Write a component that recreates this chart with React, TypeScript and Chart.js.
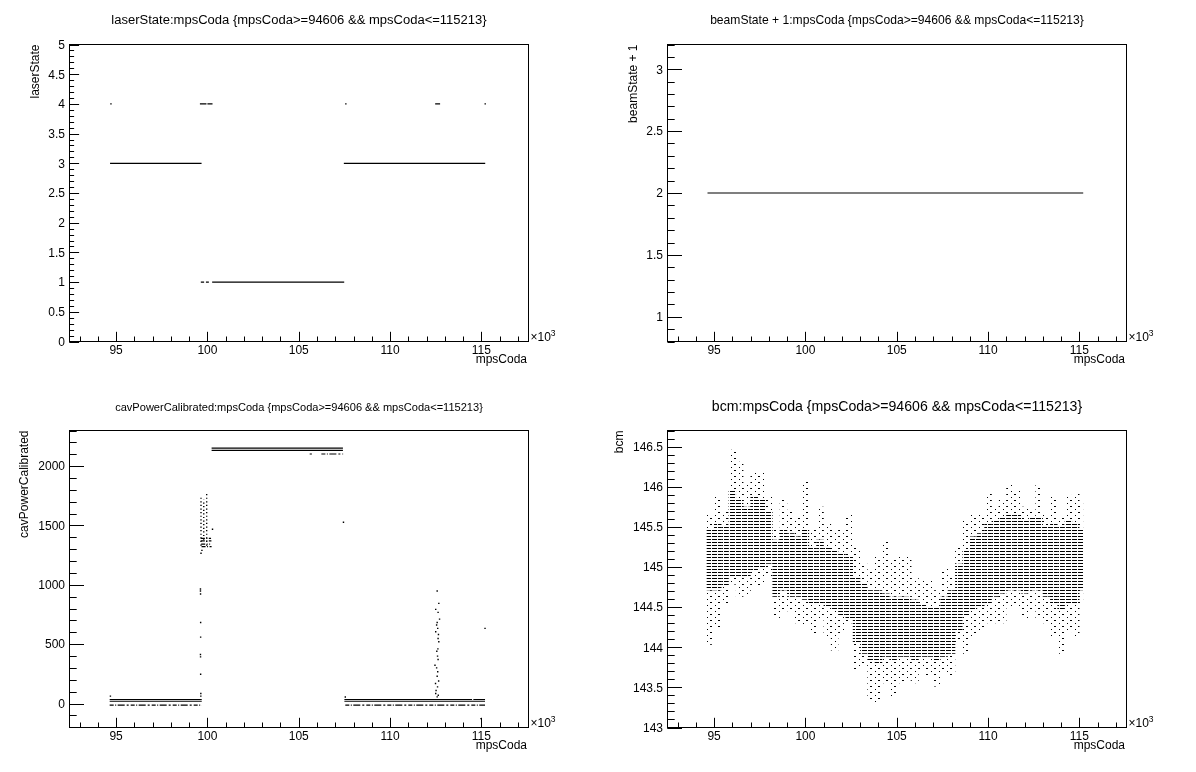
import React, { useEffect, useRef } from 'react';
import { Chart, registerables } from 'chart.js';

Chart.register(...registerables);

const FONT = '"Liberation Sans", Arial, Helvetica, sans-serif';

// ---------- shared x axis ----------
const X_MIN = 92450;
const X_MAX = 117580;
const xMajorTicks = [95000, 100000, 105000, 110000, 115000];
const xTickLabels = ['95', '100', '105', '110', '115'];
const xMinorTicks = [93000, 94000, 96000, 97000, 98000, 99000, 101000, 102000, 103000, 104000, 106000, 107000, 108000, 109000, 111000, 112000, 113000, 114000, 116000, 117000];

// ---------- panel 1: laserState ----------
const laserSegStart = [94670, 107470, 99640, 99920, 100260, 99590, 100000, 112470];
const laserSegEnd = [99680, 115210, 99820, 100080, 107490, 99950, 100280, 112740];
const laserSegValue = [3, 3, 1, 1, 1, 4, 4, 4];
const laserDotX = [94720, 107580, 115210];
const laserDotY = [4, 4, 4];
const laserYTicks = [0, 0.5, 1, 1.5, 2, 2.5, 3, 3.5, 4, 4.5, 5];
const laserYLabels = ['0', '0.5', '1', '1.5', '2', '2.5', '3', '3.5', '4', '4.5', '5'];

// ---------- panel 2: beamState + 1 ----------
const beamSegStart = [94640];
const beamSegEnd = [115210];
const beamSegValue = [2];
const beamYTicks = [1, 1.5, 2, 2.5, 3];
const beamYLabels = ['1', '1.5', '2', '2.5', '3'];

// ---------- panel 3: cavPowerCalibrated ----------
const cavSolidStart = [94650, 94650, 107500, 114560, 107500, 100230, 100230];
const cavSolidEnd = [99690, 99690, 114490, 115200, 115200, 107420, 107420];
const cavSolidValue = [34, 19, 34, 34, 19, 2152, 2132];
const cavSparseStart = [94650, 107550, 105600, 106240, 99640, 99640, 99660, 99680];
const cavSparseEnd = [99690, 115200, 105720, 107430, 100200, 100220, 100150, 100230];
const cavSparseValue = [-14, -14, 2102, 2102, 1392, 1370, 1342, 1322];
const cavColX = [99650, 99800, 99960];
const cavColLo = [1330, 1380, 1330];
const cavColHi = [1740, 1716, 1767];
const cavDotX = [99620, 99620, 99625, 99630, 99630, 99620, 99625, 99630, 99640, 99640, 99650, 100280, 99700,
  94690, 107550, 107450, 115200, 114980,
  112580, 112670, 112500, 112630, 112710, 112580, 112550, 112610, 112500, 112650, 112630, 112670, 112620, 112560,
  112600, 112630, 112460, 112550, 112610, 112580, 112660, 112490, 112600, 112520, 112500, 112640, 112580];
const cavDotY = [965, 948, 922, 683, 559, 413, 393, 247, 84, 62, 1266, 1468, 1290,
  62, 55, 1527, 633, -127,
  948, 844, 793, 768, 711, 683, 661, 633, 604, 582, 548, 520, 460, 441,
  399, 371, 323, 300, 267, 230, 190, 169, 140, 110, 84, 70, 56];
const cavYTicks = [0, 500, 1000, 1500, 2000];
const cavYLabels = ['0', '500', '1000', '1500', '2000'];

// ---------- panel 4: bcm ----------
const bcmX = [94800, 95200, 95600, 96000, 96400, 96800, 97200, 97600, 98000, 98400, 98800, 99200, 99600, 100000,
  100400, 100800, 101200, 101600, 102000, 102400, 102800, 103200, 103600, 104000, 104400, 104800, 105200, 105600,
  106000, 106400, 106800, 107200, 107600, 108000, 108400, 108800, 109200, 109600, 110000, 110400, 110800, 111200,
  111600, 112000, 112400, 112800, 113200, 113600, 114000, 114400, 114800, 115000];
const bcmMax = [145.66, 145.88, 145.69, 146.46, 146.31, 146.02, 146.17, 146.17, 145.88, 145.46, 145.84, 145.71, 145.63, 146.08,
  145.46, 145.75, 145.54, 145.46, 145.46, 145.67, 145.25, 145.04, 144.96, 145.13, 145.32, 145.09, 145.13, 145.13,
  144.88, 144.84, 144.84, 144.71, 145.0, 144.88, 145.25, 145.59, 145.67, 145.65, 145.92, 145.75, 145.84, 146.04,
  145.96, 145.75, 145.71, 146.04, 145.67, 145.88, 145.63, 145.88, 145.92, 145.8];
const bcmMin = [144.03, 144.23, 144.55, 144.78, 144.63, 144.65, 144.75, 144.77, 144.88, 144.34, 144.42, 144.46, 144.3, 144.28,
  144.17, 144.34, 144.13, 143.96, 144.17, 144.3, 143.71, 143.76, 143.34, 143.3, 143.55, 143.38, 143.55, 143.59,
  143.55, 143.71, 143.63, 143.51, 143.67, 143.63, 144.05, 143.92, 144.13, 144.21, 144.3, 144.3, 144.3, 144.5,
  144.5, 144.34, 144.46, 144.34, 144.3, 144.13, 143.92, 144.21, 144.13, 144.55];
const bcmCoreHi = [145.46, 145.54, 145.5, 145.96, 145.84, 145.75, 145.88, 145.84, 145.71, 145.34, 145.46, 145.42, 145.38, 145.46,
  145.25, 145.34, 145.25, 145.21, 145.17, 145.13, 144.88, 144.8, 144.71, 144.71, 144.67, 144.63, 144.63, 144.63,
  144.59, 144.55, 144.5, 144.5, 144.63, 144.71, 145.04, 145.21, 145.38, 145.42, 145.54, 145.59, 145.63, 145.67,
  145.67, 145.59, 145.63, 145.63, 145.5, 145.54, 145.5, 145.59, 145.54, 145.46];
const bcmCoreLo = [144.71, 144.71, 144.75, 144.88, 144.88, 144.88, 144.96, 145.0, 145.04, 144.63, 144.71, 144.63, 144.63, 144.59,
  144.55, 144.55, 144.5, 144.46, 144.38, 144.34, 144.05, 143.92, 143.84, 143.8, 143.88, 143.84, 143.88, 143.88,
  143.84, 143.88, 143.88, 143.84, 143.88, 143.92, 144.21, 144.38, 144.46, 144.5, 144.55, 144.63, 144.67, 144.71,
  144.71, 144.67, 144.71, 144.71, 144.63, 144.55, 144.46, 144.55, 144.55, 144.71];
const bcmYTicks = [143, 143.5, 144, 144.5, 145, 145.5, 146, 146.5];
const bcmYLabels = ['143', '143.5', '144', '144.5', '145', '145.5', '146', '146.5'];

type PanelCfg = {
  key: string;
  left: number;
  top: number;
  title: string;
  titleWidth: number;
  titleY: number;
  yTitle: string;
  yTitleOffset: number;
  yMin: number;
  yMax: number;
  yTicks: number[];
  yLabels: string[];
  yMinorStep: number;
  yMajorLen: number;
  yMinorLen: number;
  kind: 'scatter' | 'bar';
  datasets: () => any[];
};

const segData = (s: number[], e: number[], v: number[]) =>
  s.map((x, i) => [{ x, y: v[i] }, { x: e[i], y: v[i] }]);

const lineSet = (pts: any[], extra: any = {}) => ({
  type: 'line',
  data: pts,
  showLine: true,
  borderColor: '#000',
  borderWidth: 1.2,
  pointRadius: 0,
  fill: false,
  ...extra,
});

const dotSet = (xs: number[], ys: number[]) => ({
  type: 'scatter',
  data: xs.map((x, i) => ({ x, y: ys[i] })),
  showLine: false,
  pointStyle: 'rect',
  pointRadius: 1,
  pointBorderWidth: 0,
  backgroundColor: '#000',
  borderColor: '#000',
});

function makePattern(w: number, h: number, draw: (c: CanvasRenderingContext2D) => void) {
  const c = document.createElement('canvas');
  c.width = w;
  c.height = h;
  const cx = c.getContext('2d')!;
  cx.fillStyle = '#000';
  draw(cx);
  const probe = document.createElement('canvas').getContext('2d')!;
  return probe.createPattern(c, 'repeat');
}

const panels: PanelCfg[] = [
  {
    key: 'laser', left: 0, top: 0,
    title: 'laserState:mpsCoda {mpsCoda>=94606 && mpsCoda<=115213}', titleWidth: 376, titleY: 20.8,
    yTitle: 'laserState', yTitleOffset: 31,
    yMin: 0, yMax: 5, yTicks: laserYTicks, yLabels: laserYLabels, yMinorStep: 0.1, yMajorLen: 9.6, yMinorLen: 4.6,
    kind: 'scatter',
    datasets: () => [
      ...segData(laserSegStart, laserSegEnd, laserSegValue).map((p) => lineSet(p)),
      dotSet(laserDotX, laserDotY),
    ],
  },
  {
    key: 'beam', left: 598, top: 0,
    title: 'beamState + 1:mpsCoda {mpsCoda>=94606 && mpsCoda<=115213}', titleWidth: 374, titleY: 20.8,
    yTitle: 'beamState + 1', yTitleOffset: 31,
    yMin: 0.8, yMax: 3.2, yTicks: beamYTicks, yLabels: beamYLabels, yMinorStep: 0.1, yMajorLen: 14.5, yMinorLen: 7.2,
    kind: 'scatter',
    datasets: () => segData(beamSegStart, beamSegEnd, beamSegValue).map((p) => lineSet(p)),
  },
  {
    key: 'cav', left: 0, top: 386,
    title: 'cavPowerCalibrated:mpsCoda {mpsCoda>=94606 && mpsCoda<=115213}', titleWidth: 368, titleY: 22,
    yTitle: 'cavPowerCalibrated', yTitleOffset: 41.8,
    yMin: -202, yMax: 2300, yTicks: cavYTicks, yLabels: cavYLabels, yMinorStep: 100, yMajorLen: 14.5, yMinorLen: 7.2,
    kind: 'scatter',
    datasets: () => [
      ...segData(cavSolidStart, cavSolidEnd, cavSolidValue).map((p) => lineSet(p)),
      ...segData(cavSparseStart, cavSparseEnd, cavSparseValue).map((p) =>
        lineSet(p, { borderDash: [4, 1.5, 1, 1.5, 7, 2, 2, 2] })),
      ...cavColX.map((x, i) =>
        lineSet([{ x, y: cavColLo[i] }, { x, y: cavColHi[i] }], { borderWidth: 1.4, borderDash: [1.2, 2.4] })),
      dotSet(cavDotX, cavDotY),
    ],
  },
  {
    key: 'bcm', left: 598, top: 386,
    title: 'bcm:mpsCoda {mpsCoda>=94606 && mpsCoda<=115213}', titleWidth: 371, titleY: 20.7,
    yTitle: 'bcm', yTitleOffset: 44.4,
    yMin: 143, yMax: 146.7, yTicks: bcmYTicks, yLabels: bcmYLabels, yMinorStep: 0.1, yMajorLen: 14.5, yMinorLen: 7.2,
    kind: 'bar',
    datasets: () => {
      const core = makePattern(6, 3, (c) => c.fillRect(0, 0, 5, 1));
      const sparse = makePattern(8, 6, (c) => { c.fillRect(0, 0, 2, 1); c.fillRect(5, 3, 1, 1); });
      const common = { type: 'bar', grouped: false, barThickness: 7.5, borderWidth: 0, inflateAmount: 0 };
      return [
        { ...common, data: bcmX.map((x, i) => ({ x, y: [bcmCoreLo[i], bcmCoreHi[i]] })), backgroundColor: core },
        { ...common, data: bcmX.map((x, i) => ({ x, y: [bcmCoreHi[i], bcmMax[i]] })), backgroundColor: sparse },
        { ...common, data: bcmX.map((x, i) => ({ x, y: [bcmMin[i], bcmCoreLo[i]] })), backgroundColor: sparse },
      ];
    },
  },
];

function axesPlugin(p: PanelCfg) {
  return {
    id: 'rootAxes',
    afterDraw(chart: any) {
      const { ctx, chartArea: a, scales } = chart;
      const xs = scales.x;
      const ys = scales.y;
      ctx.save();
      ctx.strokeStyle = '#000';
      ctx.fillStyle = '#000';
      ctx.lineWidth = 1;
      ctx.strokeRect(a.left, a.top, a.right - a.left, a.bottom - a.top);
      ctx.beginPath();
      xMajorTicks.forEach((v) => {
        const px = Math.round(xs.getPixelForValue(v)) + 0.5;
        ctx.moveTo(px, a.bottom);
        ctx.lineTo(px, a.bottom - 9.7);
      });
      xMinorTicks.forEach((v) => {
        const px = Math.round(xs.getPixelForValue(v)) + 0.5;
        ctx.moveTo(px, a.bottom);
        ctx.lineTo(px, a.bottom - 5);
      });
      const nMinor = Math.round((p.yMax - p.yMin) / p.yMinorStep) + 2;
      const start = Math.ceil(p.yMin / p.yMinorStep - 1e-6) * p.yMinorStep;
      for (let i = 0; i < nMinor; i++) {
        const v = start + i * p.yMinorStep;
        if (v > p.yMax + 1e-9) break;
        const py = Math.round(ys.getPixelForValue(v)) + 0.5;
        ctx.moveTo(a.left, py);
        ctx.lineTo(a.left + p.yMinorLen, py);
      }
      p.yTicks.forEach((v) => {
        const py = Math.round(ys.getPixelForValue(v)) + 0.5;
        ctx.moveTo(a.left, py);
        ctx.lineTo(a.left + p.yMajorLen, py);
      });
      ctx.stroke();

      ctx.font = `12px ${FONT}`;
      ctx.textBaseline = 'alphabetic';
      ctx.textAlign = 'center';
      xMajorTicks.forEach((v, i) => ctx.fillText(xTickLabels[i], xs.getPixelForValue(v), a.bottom + 12.1));
      ctx.textAlign = 'right';
      p.yTicks.forEach((v, i) => ctx.fillText(p.yLabels[i], a.left - 4.5, ys.getPixelForValue(v) + 4.3));

      ctx.textAlign = 'left';
      ctx.fillText('\u00d710', a.right + 2, a.bottom - 0.5);
      const w = ctx.measureText('\u00d710').width;
      ctx.font = `8.5px ${FONT}`;
      ctx.fillText('3', a.right + 2 + w, a.bottom - 6);

      ctx.font = `12px ${FONT}`;
      ctx.textAlign = 'right';
      ctx.fillText('mpsCoda', a.right - 1.5, a.bottom + 21.3);

      ctx.save();
      ctx.translate(a.left - p.yTitleOffset, a.top);
      ctx.rotate(-Math.PI / 2);
      ctx.textAlign = 'right';
      ctx.fillText(p.yTitle, 0, 0);
      ctx.restore();

      ctx.font = `12px ${FONT}`;
      const tw = ctx.measureText(p.title).width;
      const fs = (12 * p.titleWidth) / tw;
      ctx.font = `${fs}px ${FONT}`;
      ctx.textAlign = 'center';
      ctx.textBaseline = 'middle';
      ctx.fillText(p.title, (a.left + a.right) / 2, p.titleY);
      ctx.restore();
    },
  };
}

function Panel({ cfg }: { cfg: PanelCfg }) {
  const ref = useRef<HTMLCanvasElement | null>(null);
  useEffect(() => {
    const chart = new Chart(ref.current as HTMLCanvasElement, {
      type: cfg.kind as any,
      data: { datasets: cfg.datasets() as any },
      options: {
        animation: false,
        responsive: false,
        devicePixelRatio: 1,
        events: [],
        layout: { padding: { left: 69.5, right: 69.5, top: 44.5, bottom: 44.5 } },
        plugins: { legend: { display: false }, tooltip: { enabled: false }, title: { display: false } },
        scales: {
          x: { type: 'linear', min: X_MIN, max: X_MAX, display: false, offset: false, grid: { offset: false } },
          y: { type: 'linear', min: cfg.yMin, max: cfg.yMax, display: false, beginAtZero: false },
        },
      } as any,
      plugins: [axesPlugin(cfg)],
    });
    return () => chart.destroy();
  }, []);
  return (
    <canvas
      ref={ref}
      width={598}
      height={386}
      style={{ position: 'absolute', left: cfg.left, top: cfg.top, width: 598, height: 386 }}
    />
  );
}

export default function App() {
  return (
    <div style={{ position: 'absolute', left: 0, top: 0, width: 1196, height: 772, background: '#fff' }}>
      {panels.map((p) => (
        <Panel key={p.key} cfg={p} />
      ))}
    </div>
  );
}
